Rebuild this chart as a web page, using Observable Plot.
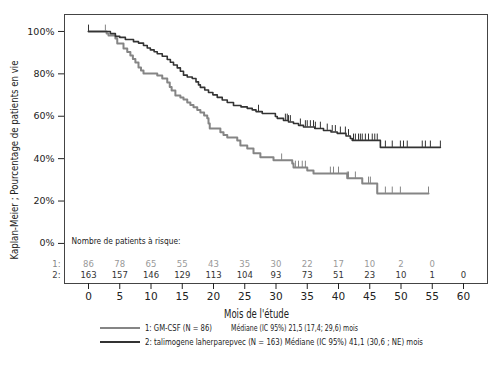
<!DOCTYPE html>
<html><head><meta charset="utf-8">
<script src="https://cdn.jsdelivr.net/npm/d3@7"></script>
<script src="https://cdn.jsdelivr.net/npm/@observablehq/plot@0.6"></script>
<style>
body{margin:0;background:#fff;font-family:"DejaVu Sans",sans-serif;}
#wrap{position:relative;width:494px;height:367px;background:#fff;overflow:hidden;}
#chart svg{display:block;}
.leg{position:absolute;font-size:9px;line-height:12px;color:#222;white-space:nowrap;transform-origin:0 50%;}
.ylab{position:absolute;font-size:10.5px;line-height:12px;color:#222;white-space:nowrap;}
.sw{position:absolute;height:0;}
svg [aria-label="y-axis tick label"] text{font-size:9.5px;}
svg [aria-label="x-axis tick label"] text{font-size:10.5px;}
</style></head><body><div id="wrap"><div id="chart"></div></div>
<script>
// Kaplan-Meier step data: [month, % alive]
const gmcsfSteps = [
 [0,100],[2.9,99],[3.2,98.1],[4.3,96.7],[4.6,94.3],[5.6,92],[6.2,90.3],[6.7,88.7],[7.1,87],[7.5,85.4],
 [8.0,83],[8.4,81.6],[8.8,80.2],[11.0,79.2],[11.8,77.8],[12.6,75.9],[13.0,73.8],[13.3,72.2],[13.9,69.8],
 [14.7,68.9],[15.2,67.9],[15.8,66.5],[16.3,65.3],[16.8,64.2],[17.4,63],[17.9,61.8],[18.5,60.4],[19.0,59],
 [19.2,56.6],[19.4,54.2],[21.1,52.4],[21.6,51.2],[22.2,50],[23.8,48.6],[24.3,46.2],[25.4,44.8],[26.4,42.5],
 [27.5,40.6],[29.6,39.2],[32.6,37.7],[32.8,35.8],[35.0,34.4],[36.0,33],[41.4,30.7],[43.8,28.3],[46.2,23.6],
 [54.4,23.6]
];
const tvecSteps = [
 [0,100],[3.5,99],[4.3,97.7],[5.0,97.2],[5.9,96.2],[7.2,95.2],[8.0,94.5],[8.8,93.4],[9.4,92.2],[9.9,91.3],
 [10.5,90.4],[11.0,89.5],[11.8,88.3],[12.6,86.8],[13.1,85.5],[13.6,84.2],[14.2,82.8],[14.7,81.2],[15.2,79.4],
 [15.8,78.5],[16.6,77.8],[17.2,76.2],[17.6,74.8],[17.9,73.6],[18.6,72.4],[19.2,71.2],[19.9,70.1],[20.6,68.9],
 [21.4,67.7],[22.2,66.5],[23.2,65.1],[24.4,64.4],[25.4,63.7],[26.2,63],[26.8,62.2],[27.8,61.3],[29.9,59.9],
 [30.2,59],[31.2,58],[32.0,57.3],[32.8,56.6],[33.6,55.7],[34.4,54.9],[36.2,54.2],[37.6,53.3],[38.8,52.6],
 [39.8,51.9],[41.2,50.7],[41.9,49.5],[42.2,48.6],[46.7,45.3],[56.3,45.3]
];
// censoring times (months)
const gmcsfCensor = [2.7,30.9,33.1,33.6,34.2,34.7,38.7,39.2,40.0,41.4,41.6,42.7,44.8,45.1,46.2,47.5,48.6,49.9,54.4];
const tvecCensor = [0,27.2,31.5,31.8,32.0,32.3,33.9,34.7,35.0,35.5,36.0,36.3,37.1,38.2,39.0,39.5,40.3,41.1,41.6,
 42.4,42.7,43.2,43.5,43.8,44.3,44.8,45.4,45.8,46.2,47.5,48.6,49.9,50.4,51.0,53.4,53.9,54.7,56.3];
// numbers at risk
const riskMonthsGM = [0,5,10,15,20,25,30,35,40,45,50,55];
const riskGM = [86,78,65,55,43,35,30,22,17,10,2,0];
const riskMonthsTV = [0,5,10,15,20,25,30,35,40,45,50,55,60];
const riskTV = [163,157,146,129,113,104,93,73,51,23,10,1,0];
const xTicks = [0,5,10,15,20,25,30,35,40,45,50,55,60];
const yTicks = [0,20,40,60,80,100];

const yLabel = "Kaplan-Meier ; Pourcentage de patients en vie";
const xLabel = "Mois de l'étude";
const riskTitle = "Nombre de patients à risque:";
const leg1a = "1: GM-CSF (N = 86)";
const leg1b = "Médiane (IC 95%) 21,5 (17,4; 29,6) mois";
const leg2 = "2: talimogene laherparepvec (N = 163) Médiane (IC 95%) 41,1 (30,6 ; NE) mois";

const GRAY = "#858585", DARK = "#333333";
const toRows = s => s.map(([t, p]) => ({t, p}));
const survAt = (steps, t) => { let v = steps[0][1]; for (const [m, p] of steps) if (m <= t) v = p; return v; };
const cens = (steps, times) => times.map(t => ({t, p: survAt(steps, t)}));

const plot = Plot.plot({
  width: 494, height: 322,
  marginLeft: 64, marginRight: 7, marginTop: 14, marginBottom: 39,
  style: {fontFamily: '"DejaVu Sans",sans-serif', background: "#fff", color: "#222", overflow: "visible"},
  x: {domain: [-3.84, 63.84]},
  y: {domain: [-18.9, 108]},
  marks: [
    Plot.frame({stroke: "#444", strokeWidth: 1}),
    Plot.axisY({ticks: yTicks, tickFormat: d => d + "%", tickSize: 6, tickPadding: 4, label: null}),
    Plot.axisX({ticks: xTicks, tickFormat: d => d, tickSize: 6, tickPadding: 3, label: null}),
    Plot.text([xLabel], {frameAnchor: "bottom", dx: -19.5, dy: 34, fontSize: 11.5, fill: "#222"}),
    Plot.line(toRows(gmcsfSteps), {x: "t", y: "p", curve: "step-after", stroke: GRAY, strokeWidth: 2}),
    Plot.line(toRows(tvecSteps), {x: "t", y: "p", curve: "step-after", stroke: DARK, strokeWidth: 1.6}),
    Plot.ruleX(cens(gmcsfSteps, gmcsfCensor), {x: "t", y1: "p", y2: d => d.p + 3, stroke: GRAY, strokeWidth: 1}),
    Plot.ruleX(cens(tvecSteps, tvecCensor), {x: "t", y1: "p", y2: d => d.p + 3, stroke: DARK, strokeWidth: 1}),
    Plot.text([riskTitle], {frameAnchor: "bottom-left", dx: 7, dy: -40, textAnchor: "start", fontSize: 9, fill: "#222"}),
    Plot.text(["1:"], {frameAnchor: "bottom-left", dx: -4, dy: -17, textAnchor: "end", fontSize: 8.5, fill: GRAY}),
    Plot.text(["2:"], {frameAnchor: "bottom-left", dx: -4, dy: -6, textAnchor: "end", fontSize: 8.5, fill: "#444"}),
    Plot.text(riskGM, {x: (d, i) => riskMonthsGM[i], text: d => d, frameAnchor: "bottom", dy: -17, fontSize: 8.5, fill: "#999"}),
    Plot.text(riskTV, {x: (d, i) => riskMonthsTV[i], text: d => d, frameAnchor: "bottom", dy: -6, fontSize: 8.5, fill: "#333"})
  ]
});
document.getElementById("chart").appendChild(plot);

// compress long labels to the reference's narrow typeface widths
const fitW = {[xLabel]: 65, [riskTitle]: 109};
plot.querySelectorAll("text").forEach(t => {
  const w = fitW[t.textContent];
  if (w) { t.setAttribute("textLength", w); t.setAttribute("lengthAdjust", "spacingAndGlyphs"); }
});

const wrap = document.getElementById("wrap");
function add(txt, css, cls, target) {
  const e = document.createElement("div"); e.className = cls; e.style.cssText = css; e.textContent = txt; wrap.appendChild(e);
  if (target) { const w = e.getBoundingClientRect().width; e.style.transform = `scaleX(${target / w})`; }
  return e;
}
// rotated y-axis title, centred at (14, 160)
const yl = add(yLabel, "left:14px;top:160px;", "ylab");
const ylw = yl.getBoundingClientRect().width;
yl.style.transform = `translate(-50%,-50%) rotate(-90deg) scaleX(${199 / ylw})`;

add("", `left:100px;top:327px;width:40px;border-top:2px solid ${GRAY};`, "sw");
add("", `left:100px;top:341px;width:40px;border-top:2px solid ${DARK};`, "sw");
add(leg1a, "left:145px;top:322px;", "leg", 67);
add(leg1b, "left:231px;top:322px;", "leg", 127);
add(leg2, "left:145px;top:336px;", "leg", 278);
</script></body></html>
